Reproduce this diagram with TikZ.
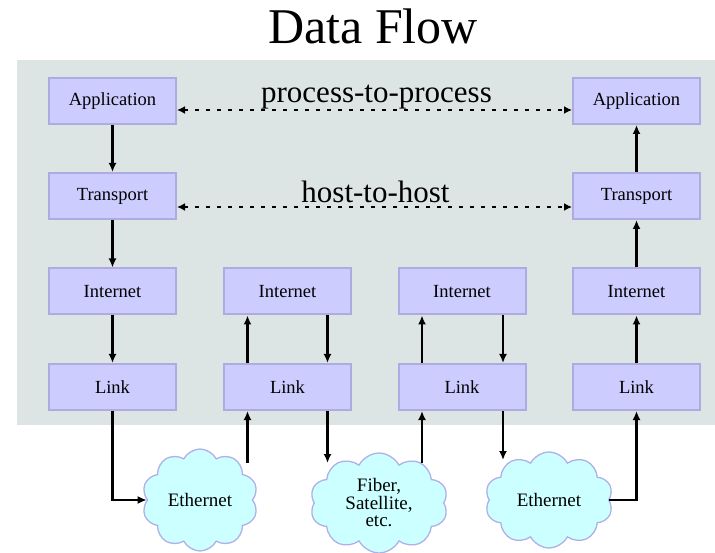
\documentclass[tikz,border=0pt]{standalone}
\usepackage{fontspec}
\newfontfamily\diafont{Liberation Serif}
\usetikzlibrary{shapes.symbols,arrows.meta,calc}
\definecolor{bggray}{RGB}{221,228,228}
\definecolor{boxfill}{RGB}{204,204,255}
\definecolor{boxline}{RGB}{172,172,226}
\definecolor{cloudfill}{RGB}{204,255,255}
\definecolor{cloudline}{RGB}{176,176,232}
\begin{document}
\begin{tikzpicture}[x=1pt,y=-1pt,
  layer/.style={draw=boxline, line width=2pt, fill=boxfill,
    minimum width=127pt, minimum height=46pt, inner sep=0pt,
    font=\diafont\fontsize{18.5}{21}\selectfont},
  netcloud/.style={cloud, cloud puffs=10, cloud puff arc=125, cloud ignores aspect,
    draw=cloudline, line width=1.3pt, fill=cloudfill, inner sep=0pt,
    align=center, font=\diafont\fontsize{19}{17.5}\selectfont},
  flow/.style={line width=2.4pt, -{Latex[length=9pt,width=8pt]}},
  peer/.style={line width=2.2pt, dash pattern=on 3.5pt off 7.5pt,
    {Latex[length=8pt,width=8pt]}-{Latex[length=8pt,width=8pt]}},
  biglabel/.style={anchor=base, inner sep=0pt, font=\diafont\fontsize{31}{34}\selectfont}
]
\useasboundingbox (0,0) rectangle (715,553);
\fill[bggray] (17,60) rectangle (715,425);

\node[anchor=base, inner sep=0pt, font=\diafont\fontsize{50}{54}\selectfont] (title) at (373,44) {Data Flow};

% column 1
\node[layer] (a1) at (112.5,101) {Application};
\node[layer] (t1) at (112.5,196) {Transport};
\node[layer] (i1) at (112.5,291.5) {Internet};
\node[layer] (l1) at (112.5,387) {Link};
% column 2
\node[layer] (i2) at (287.5,291.5) {Internet};
\node[layer] (l2) at (287.5,387) {Link};
% column 3
\node[layer] (i3) at (462,291.5) {Internet};
\node[layer] (l3) at (462,387) {Link};
% column 4
\node[layer] (a4) at (636.5,101) {Application};
\node[layer] (t4) at (636.5,196) {Transport};
\node[layer] (i4) at (636.5,291.5) {Internet};
\node[layer] (l4) at (636.5,387) {Link};

% clouds
\node[netcloud, minimum width=116pt, minimum height=102pt] (c1) at (200,500) {Ethernet};
\node[netcloud, minimum width=138pt, minimum height=100pt] (c2) at (379,503) {Fiber,\\Satellite,\\etc.};
\node[netcloud, minimum width=128pt, minimum height=96pt] (c3) at (549,500) {Ethernet};

% peer labels
\node[biglabel] (pp) at (376.5,103) {process-to-process};
\node[biglabel] (hh) at (375.5,203) {host-to-host};

% peer arrows
\draw[peer] ([yshift=-9pt]a1.east) -- ([yshift=-9pt]a4.west);
\draw[peer] ([yshift=-11pt]t1.east) -- ([yshift=-11pt]t4.west);

% column 1 down
\draw[flow] (a1) -- (t1);
\draw[flow] (t1) -- (i1);
\draw[flow] (i1) -- (l1);
% column 2
\draw[flow] ([xshift=-40pt]l2.north) -- ([xshift=-40pt]i2.south);
\draw[flow] ([xshift=40pt]i2.south) -- ([xshift=40pt]l2.north);
% column 3
\draw[flow] ([xshift=-40pt]l3.north) -- ([xshift=-40pt]i3.south);
\draw[flow] ([xshift=41pt]i3.south) -- ([xshift=41pt]l3.north);
% column 4 up
\draw[flow] (l4) -- (i4);
\draw[flow] (i4) -- (t4);
\draw[flow] (t4) -- (a4);

% physical links
\coordinate (c1up) at (247.5,463);
\coordinate (c2in) at (327.5,463);
\coordinate (c2up) at (422,463);
\coordinate (c3in) at (503,460);
\draw[flow] (l1.south) |- (c1.west);
\draw[flow] (c1up) -- (c1up |- l2.south);
\draw[flow] (c2in |- l2.south) -- (c2in);
\draw[flow] (c2up) -- (c2up |- l3.south);
\draw[flow] (c3in |- l3.south) -- (c3in);
\draw[flow] (c3.east) -| (l4.south);
\end{tikzpicture}
\end{document}
